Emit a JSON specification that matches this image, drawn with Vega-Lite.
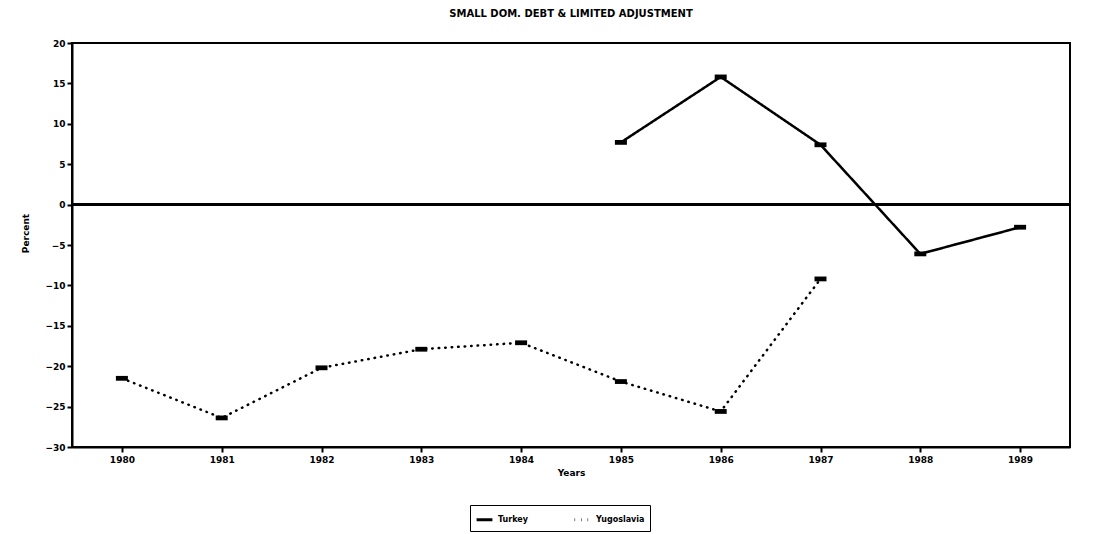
{
  "$schema": "https://vega.github.io/schema/vega-lite/v6.json",
  "autosize": {"type": "none"},
  "width": 998,
  "height": 404,
  "padding": {"left": 72, "top": 43, "right": 40, "bottom": 87},
  "background": "white",
  "config": {
    "view": {"stroke": "black", "strokeWidth": 2},
    "font": "DejaVu Sans",
    "axis": {"labelFont": "DejaVu Sans", "labelFontWeight": "bold", "labelFontSize": 9, "labelColor": "black", "titleFont": "DejaVu Sans", "titleFontSize": 9, "titleFontWeight": "bold", "titleColor": "black", "domainColor": "black", "domainWidth": 2, "tickColor": "black", "tickWidth": 2, "tickSize": 5, "grid": false}
  },
  "title": {"text": "SMALL DOM. DEBT & LIMITED ADJUSTMENT", "font": "DejaVu Sans", "fontSize": 10, "fontWeight": "bold", "color": "black", "offset": 20, "anchor": "middle"},
  "data": {"values": [
    {"Year": "1980", "Country": "Yugoslavia", "Percent": -21.5},
    {"Year": "1981", "Country": "Yugoslavia", "Percent": -26.4},
    {"Year": "1982", "Country": "Yugoslavia", "Percent": -20.2},
    {"Year": "1983", "Country": "Yugoslavia", "Percent": -17.9},
    {"Year": "1984", "Country": "Yugoslavia", "Percent": -17.1},
    {"Year": "1985", "Country": "Yugoslavia", "Percent": -21.9},
    {"Year": "1986", "Country": "Yugoslavia", "Percent": -25.6},
    {"Year": "1987", "Country": "Yugoslavia", "Percent": -9.2},
    {"Year": "1985", "Country": "Turkey", "Percent": 7.7},
    {"Year": "1986", "Country": "Turkey", "Percent": 15.8},
    {"Year": "1987", "Country": "Turkey", "Percent": 7.4},
    {"Year": "1988", "Country": "Turkey", "Percent": -6.1},
    {"Year": "1989", "Country": "Turkey", "Percent": -2.8}
  ]},
  "encoding": {
    "x": {"field": "Year", "type": "ordinal", "scale": {"type": "point", "padding": 0.5, "domain": ["1980","1981","1982","1983","1984","1985","1986","1987","1988","1989"]}, "axis": {"title": "Years", "labelAngle": 0, "labelPadding": 3, "titlePadding": 4}},
    "y": {"field": "Percent", "type": "quantitative", "scale": {"domain": [-30, 20], "nice": false, "zero": false}, "axis": {"title": "Percent", "values": [-30,-25,-20,-15,-10,-5,0,5,10,15,20], "labelPadding": 2, "titleX": -42, "titleY": 190}}
  },
  "layer": [
    {
      "mark": {"type": "rule", "color": "black", "strokeWidth": 2},
      "encoding": {"x": null, "y": {"datum": 0}}
    },
    {
      "mark": {"type": "line", "color": "black", "strokeWidth": 2.5, "strokeCap": "round"},
      "encoding": {
        "strokeDash": {"field": "Country", "type": "nominal", "scale": {"domain": ["Turkey", "Yugoslavia"], "range": [[1, 0], [0.5, 6]]},
          "legend": {"title": null, "orient": "none", "legendX": 398, "legendY": 462, "direction": "horizontal", "strokeColor": "black", "padding": 5, "labelFont": "DejaVu Sans", "labelFontSize": 8, "labelFontWeight": "bold", "labelColor": "black", "symbolStrokeColor": "black", "symbolStrokeWidth": 3, "symbolSize": 250, "columnPadding": 40}}
      }
    },
    {
      "mark": {"type": "point", "shape": "M-1,-0.4L1,-0.4L1,0.4L-1,0.4Z", "filled": true, "color": "black", "size": 144, "opacity": 1},
      "encoding": {"detail": {"field": "Country"}}
    }
  ]
}
